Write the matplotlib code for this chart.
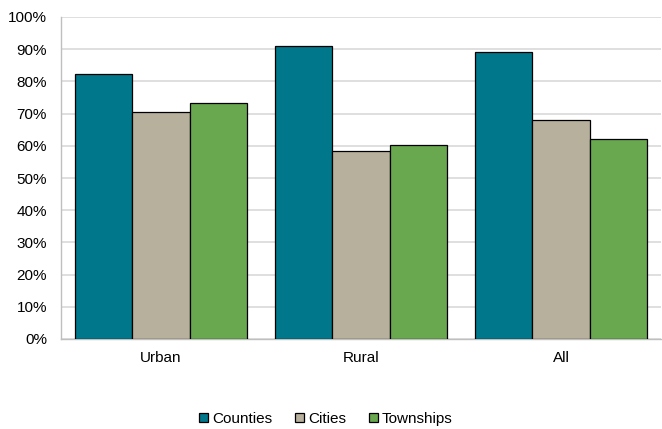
import numpy as np
from matplotlib import pyplot as plt
from matplotlib.ticker import PercentFormatter

plt.rcParams['font.family'] = ['Liberation Sans', 'DejaVu Sans']

categories = ['Urban', 'Rural', 'All']
series_names = ['Counties', 'Cities', 'Townships']
counties = [82.3, 91.0, 89.2]
cities = [70.6, 58.3, 68.0]
townships = [73.2, 60.1, 62.0]
colors = ['#00778B', '#B7B09D', '#6AA84F']

fig = plt.figure(figsize=(6.62, 4.29), dpi=100)
ax = fig.add_axes([61 / 662, 1 - 339 / 429, 600 / 662, 322 / 429])

x = np.arange(len(categories))
w = 0.288
for i, (vals, name) in enumerate(zip([counties, cities, townships], series_names)):
    ax.bar(x + (i - 1) * w, vals, w, color=colors[i], edgecolor='black',
           linewidth=0.9, label=name, zorder=3)

ax.set_xlim(-0.5, 2.5)
ax.set_ylim(0, 100)
ax.set_yticks(range(0, 101, 10))
ax.yaxis.set_major_formatter(PercentFormatter(decimals=0))
ax.set_xticks(x)
ax.set_xticklabels(categories)
ax.tick_params(axis='both', length=0, labelsize=11)
ax.tick_params(axis='y', pad=10)
ax.tick_params(axis='x', pad=9)
ax.grid(axis='y', color='#D9D9D9', linewidth=1.2, zorder=0)
for s in ['top', 'right']:
    ax.spines[s].set_visible(False)
for s in ['left', 'bottom']:
    ax.spines[s].set_color('#BFBFBF')
    ax.spines[s].set_linewidth(1.0)

fig.legend(loc='center', bbox_to_anchor=(326 / 662, 1 - 419 / 429), ncol=3,
           frameon=False, fontsize=11, handlelength=0.6, handleheight=0.6,
           handletextpad=0.25, columnspacing=1.5)

fig.savefig('out.png', dpi=100)
